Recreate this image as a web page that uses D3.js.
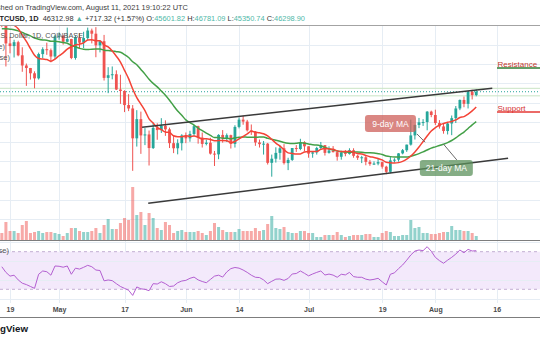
<!DOCTYPE html>
<html>
<head>
<meta charset="utf-8">
<script src="https://cdn.jsdelivr.net/npm/d3@7"></script>
<style>
  html, body { margin: 0; padding: 0; background: #fff; }
  svg { display: block; font-family: "Liberation Sans", Arial, sans-serif; }
</style>
</head>
<body>
<svg id="chart" width="540" height="340"></svg>
<script>
// BTC/USD daily candles, Coinbase, 17 Apr – 11 Aug 2021
const firstDay = "2021-04-17";

const openP = [
  61450, 60050, 56250, 55700, 56500, 53800, 51700, 51180, 50100, 49050, 54050, 55050, 54850, 53550,
  57700, 57800, 56580, 57150, 53250, 57500, 56400, 57350, 58900, 58250, 55850, 56700, 49150, 49700, 49900, 46750, 46450, 43550, 42850, 36700, 40650, 37300, 37500, 34700, 38850, 38400, 39300, 38550, 35700, 34650, 35700,
  37300, 36700, 37600, 39200, 36850, 35550, 35800, 33550, 33400, 37400, 36700, 37350, 35550, 39050, 40550, 40150, 38350, 38100, 35850, 35500, 35600, 31650, 32500, 33700, 34650, 31600, 32250, 34700, 34500, 35900,
  35050, 33550, 33800, 34700, 35300, 33700, 34200, 33850, 32900, 33800, 33500, 34250, 33100, 32700, 32800, 31850, 31400, 31500, 31800, 30850, 29800, 32150, 32300, 33600, 34250, 35400, 37300, 39450, 40000, 40050, 42200,
  41500, 39850, 39150, 38200, 39750, 40850, 42850, 44600, 43800, 46300, 45601.82
];
const highP = [
  62600, 61200, 57600, 57000, 56800, 55450, 52100, 51200, 50500, 54350, 55450, 56400, 55200, 58000,
  58500, 57950, 59500, 57200, 57900, 58350, 58650, 59500, 59300, 59600, 56900, 58000, 51350, 51500, 50700, 49800, 46600, 45800, 43550, 42500, 42200, 38800, 38300, 39900, 39800, 40850, 40400, 38900, 37300, 36500, 37550,
  37900, 38250, 39500, 39300, 37900, 36450, 36800, 34100, 37550, 38400, 37700, 37450, 39400, 41000, 41350, 40500, 39550, 38200, 36450, 36150, 35750, 33350, 34850, 35250, 35500, 32700, 34700, 35300, 36600, 36100,
  35050, 33950, 34950, 35950, 35300, 35050, 35100, 33900, 34100, 34300, 34650, 34650, 33350, 33100, 33200, 32250, 31950, 32450, 31900, 31050, 32850, 32600, 33650, 34500, 35400, 40550, 39500, 40900, 40650, 42300, 42400,
  42600, 40450, 39800, 39950, 41400, 43350, 44700, 45300, 46450, 46700, 46781.09
];
const lowP = [
  59600, 51500, 54200, 53350, 53600, 50400, 47500, 48800, 47000, 48800, 53200, 53900, 52350, 53000,
  57000, 56000, 56500, 53000, 52900, 55200, 55300, 56900, 56250, 53400, 54400, 48600, 46000, 48850, 46650, 43800, 42100, 42300, 30000, 35000, 33500, 35300, 31100, 34500, 36400, 37800, 37200, 34700, 33650, 33400, 34200,
  35700, 36000, 37200, 35600, 34800, 35250, 33350, 31000, 32400, 35800, 35950, 34600, 34800, 38750, 39500, 38100, 37400, 35150, 34800, 33350, 31300, 28800, 31700, 32300, 31300, 30150, 32050, 33900, 34250, 34050,
  32700, 32700, 33350, 34400, 33150, 33550, 33800, 32100, 32300, 33000, 33350, 32700, 32250, 31600, 31150, 31050, 31200, 31150, 30450, 29300, 29500, 31700, 31900, 33400, 33900, 35200, 36450, 38800, 39250, 38350, 41050,
  39450, 38700, 37650, 37500, 37350, 39850, 42500, 43100, 42850, 44700, 45350.74
];
const closeP = [
  60050, 56250, 55700, 56500, 53800, 51700, 51180, 50100, 49050, 54050, 55050, 54850, 53550, 57700,
  57800, 56580, 57150, 53250, 57500, 56400, 57350, 58900, 58250, 55850, 56700, 49150, 49700, 49900, 46750, 46450, 43550, 42850, 36700, 40650, 37300, 37500, 34700, 38850, 38400, 39300, 38550, 35700, 34650, 35700, 37300,
  36700, 37600, 39200, 36850, 35550, 35800, 33550, 33400, 37400, 36700, 37350, 35550, 39050, 40550, 40150, 38350, 38100, 35850, 35500, 35600, 31650, 32500, 33700, 34650, 31600, 32250, 34700, 34500, 35900, 35050,
  33550, 33800, 34700, 35300, 33700, 34200, 33850, 32900, 33800, 33500, 34250, 33100, 32700, 32800, 31850, 31400, 31500, 31800, 30850, 29800, 32150, 32300, 33600, 34250, 35400, 37300, 39450, 40000, 40050, 42200, 41500,
  39850, 39150, 38200, 39750, 40850, 42850, 44600, 43800, 46300, 45601.82, 46298.90
];
const volumeBTC = [
  17500, 45000, 22500, 22500, 17500, 37500, 47500, 17500, 20000, 22500, 17500, 20000, 20000, 17500,
  15000, 10000, 17500, 30000, 30000, 22500, 20000, 20000, 22500, 30000, 17500, 37500, 52500, 27500, 27500, 42500, 55000, 50000, 132500, 62500, 70000, 37500, 67500, 55000, 30000, 25000, 45000, 37500, 17500, 22500, 25000,
  20000, 20000, 20000, 22500, 17500, 12500, 22500, 42500, 32500, 25000, 20000, 20000, 20000, 27500, 22500, 22500, 22500, 30000, 22500, 25000, 40000, 60000, 30000, 27500, 32500, 20000, 17500, 17500, 22500, 22500,
  17500, 17500, 7500, 7500, 12500, 12500, 12500, 20000, 12500, 7500, 10000, 12500, 12500, 12500, 15000, 15000, 7500, 7500, 17500, 22500, 20000, 10000, 10000, 12500, 12500, 50000, 30000, 32500, 17500, 17500, 15000,
  15000, 17500, 20000, 20000, 35000, 25000, 25000, 22500, 22500, 17500, 10000
];
const rsi14 = [
  54, 48, 44, 45, 40, 36.5, 35, 33, 31, 46, 49.5, 48.7, 45, 54.8,
  54.5, 53.5, 54.8, 46, 52.5, 51.5, 53.4, 55.5, 54, 50.5, 50, 39, 39.9, 39.2, 36, 33, 31, 29, 23.5, 32.5, 30.5, 30, 28.5, 36, 35.6, 38, 36, 33, 33.5, 37, 38.8,
  39.5, 41.7, 43, 40, 38.3, 37, 40.5, 44, 45, 43, 48.5, 52, 53.2, 52.5, 50.5, 48, 45, 42.8, 42.5, 40, 36, 38.5, 40.8, 41, 39.5, 41.5, 46.3, 46.8, 49.5, 47,
  44.3, 46.3, 48, 49.5, 45.2, 46.2, 45.1, 42.8, 46, 45.3, 48, 43.5, 42.8, 42.8, 40.8, 39.9, 40.6, 41.7, 38, 34.6, 46, 47.5, 52, 55.9, 61, 66.5, 70.7, 71.8, 71.1, 75.3, 70.5,
  64, 60.5, 57.7, 61, 64, 67.5, 71.8, 68.9, 72.5, 70.7, 71.1
];
// MA (9, close)
const ma9 = [
  60994, 60789, 60333, 59955, 59272, 57955, 56648, 55192, 53814, 53148, 53014, 52920, 52592, 53026,
  53703, 54303, 55087, 55553, 55937, 56087, 56364, 56959, 57020, 56803, 56817, 55928, 55533, 54689, 53617, 52406, 50700, 48989, 46861, 45078, 43761, 42406, 40717, 39839, 38944, 38472, 37994, 37883, 37217, 37039, 37017,
  37239, 37100, 37189, 36917, 36583, 36594, 36472, 36217, 36228, 36228, 36200, 35794, 36039, 36594, 37078, 37611, 38133, 37961, 37828, 37633, 37200, 36472, 35711, 35100, 34350, 33700, 33572, 33461, 33494, 33872,
  33989, 34000, 34006, 34417, 34578, 34522, 34450, 34117, 33978, 33972, 34022, 33844, 33556, 33456, 33194, 32922, 32767, 32544, 32250, 31756, 31650, 31606, 31694, 31961, 32406, 33050, 33900, 34917, 36056, 37172, 38194,
  38889, 39433, 39744, 40017, 40172, 40489, 40994, 41172, 41706, 42344, 43139
];
// MA (21, close)
const ma21 = [
  59248, 59269, 59179, 59069, 58831, 58495, 58123, 57790, 57354, 57113, 56973, 56918, 56701, 56682,
  56587, 56429, 56296, 55805, 55546, 55222, 55027, 54972, 55067, 55074, 55084, 54862, 54767, 54706, 54547, 54423, 53923, 53342, 52478, 51863, 50892, 49925, 48883, 48012, 47305, 46438, 45588, 44557, 43402, 42329, 41445,
  40493, 39943, 39443, 38821, 38288, 37781, 37305, 36855, 36888, 36700, 36702, 36610, 36817, 36898, 36981, 36936, 36914, 36921, 36962, 36957, 36688, 36488, 36302, 36086, 35836, 35679, 35626, 35671, 35790, 35679,
  35529, 35360, 35319, 35140, 34814, 34531, 34317, 34069, 33971, 33876, 33812, 33881, 33890, 33848, 33714, 33705, 33669, 33531, 33357, 33067, 32929, 32869, 32860, 32838, 32843, 33014, 33264, 33557, 33898, 34298, 34679,
  34945, 35233, 35495, 35826, 36255, 36800, 37424, 37995, 38731, 39483, 40157
];

const timeTicks = ["2021-04-19", "2021-05-01", "2021-05-17", "2021-06-01", "2021-06-14", "2021-07-01", "2021-07-19", "2021-08-01", "2021-08-16"];
const timeTickLabels = ["19", "May", "17", "Jun", "14", "Jul", "19", "Aug", "16"];
const priceGrid = [20000, 24000, 28000, 32000, 36000, 40000, 44000, 48000, 52000, 56000];
const rsiGrid = [20, 40, 60, 80];
const rsiBand = [70, 30];

// Ascending channel drawn on the chart
const channelUpper = [["2021-05-21T07:00", 38970], ["2021-08-14T22:00", 47000]];
const channelLower = [["2021-05-22T19:00", 23320], ["2021-08-18T19:00", 32590]];
// Horizontal levels
const rangeLevels = [47000, 45450];
const lastPrice = 46298.90;
const levelStart = "2021-08-16T02:00";
const keyLevels = [
  { name: "Resistance", price: 51180, line: "#2e7d32", text: "#c0392b" },
  { name: "Support", price: 42120, line: "#e53935", text: "#d32f2f" }
];
// Callouts for the moving averages
const callouts = [
  { text: "9-day MA", at: ["2021-07-14T19:00", 41500], w: 51, h: 17, fill: "rgba(205,95,90,0.75)",
    from: ["2021-07-27T12:00", 37600], to: ["2021-07-29T12:00", 35900] },
  { text: "21-day MA", at: ["2021-07-28T05:00", 32240], w: 53, h: 16, fill: "rgba(92,145,92,0.75)",
    from: ["2021-08-03T00:00", 35500], to: ["2021-08-06T06:00", 32240] }
];

const parseDay = d3.utcParse("%Y-%m-%d");
const parseTime = d3.utcParse("%Y-%m-%dT%H:%M");
const start = parseDay(firstDay);
const days = d3.utcDay.range(start, d3.utcDay.offset(start, closeP.length));
const bars = days.map((d, i) => ({
  date: d, o: openP[i], h: highP[i], l: lowP[i], c: closeP[i],
  v: volumeBTC[i], rsi: rsi14[i], ma9: ma9[i], ma21: ma21[i]
}));

const W = 540, H = 340;
const paneTop = 25, paneBottom = 240, rsiTop = 241, rsiBottom = 303, axisLineY = 317;

const x = d3.scaleUtc()
  .domain([parseDay("2021-04-19"), parseDay("2021-08-16")])
  .range([10, 496.7]);
const y = d3.scaleLinear().domain([20000, 60000]).range([219.4, 25.2]);
const yVol = d3.scaleLinear().domain([0, 150000]).range([paneBottom, 180]);
const yRsi = d3.scaleLinear().domain([0, 100]).range([317.5, 223.5]);

const svg = d3.select("#chart");
svg.append("rect").attr("width", W).attr("height", H).attr("fill", "#fff");

const defs = svg.append("defs");
defs.append("clipPath").attr("id", "clipMain")
  .append("rect").attr("x", 0).attr("y", paneTop + 0.5).attr("width", W).attr("height", paneBottom - paneTop - 0.5);
defs.append("clipPath").attr("id", "clipRsi")
  .append("rect").attr("x", 0).attr("y", rsiTop).attr("width", W).attr("height", rsiBottom - rsiTop);

// Sizes a text so the part from character `from` onward spans x0..x1,
// right-aligned at x1; anything before x0 runs off the left edge.
function fitSpan(sel, from, x0, x1) {
  const node = sel.node();
  const n = node.getNumberOfChars();
  let fs = +sel.attr("font-size");
  for (let k = 0; k < 3; k++) {
    const w = node.getSubStringLength(from, n - from);
    if (!(w > 0)) break;
    fs *= (x1 - x0) / w;
    sel.attr("font-size", fs);
  }
  sel.attr("text-anchor", "end").attr("x", x1);
}

const gridColor = "#e6edf4";
const tickDates = timeTicks.map(parseDay);

// grid
const grid = svg.append("g");
grid.selectAll("line.v").data(tickDates).join("line")
  .attr("x1", d => Math.round(x(d)) + 0.5).attr("x2", d => Math.round(x(d)) + 0.5)
  .attr("y1", paneTop).attr("y2", rsiBottom)
  .attr("stroke", gridColor);
const main = svg.append("g").attr("clip-path", "url(#clipMain)");
main.selectAll("line.h").data(priceGrid).join("line")
  .attr("x1", 0).attr("x2", W)
  .attr("y1", d => Math.round(y(d)) + 0.5).attr("y2", d => Math.round(y(d)) + 0.5)
  .attr("stroke", gridColor);

// volume
const upVol = "rgba(38,166,154,0.5)", downVol = "rgba(239,83,80,0.5)";
main.selectAll("rect.vol").data(bars).join("rect")
  .attr("x", d => x(d.date) - 1.5).attr("width", 3)
  .attr("y", d => yVol(d.v)).attr("height", d => yVol(0) - yVol(d.v))
  .attr("fill", d => d.c >= d.o ? upVol : downVol);

// horizontal range levels and last price
main.selectAll("line.lvl").data(rangeLevels).join("line")
  .attr("x1", 0).attr("x2", W)
  .attr("y1", d => y(d)).attr("y2", d => y(d))
  .attr("stroke", "#c9e4c5").attr("stroke-width", 1);
main.append("line")
  .attr("x1", 0).attr("x2", W).attr("y1", y(lastPrice)).attr("y2", y(lastPrice))
  .attr("stroke", "#26a69a").attr("stroke-width", 1).attr("stroke-dasharray", "1,2");

// candles
const upC = "#26a69a", downC = "#ef5350";
const cg = main.selectAll("g.candle").data(bars).join("g");
cg.append("line")
  .attr("x1", d => x(d.date)).attr("x2", d => x(d.date))
  .attr("y1", d => y(d.h)).attr("y2", d => y(d.l))
  .attr("stroke", d => d.c >= d.o ? upC : downC).attr("stroke-width", 1);
cg.append("rect")
  .attr("x", d => x(d.date) - 1.4).attr("width", 2.8)
  .attr("y", d => y(Math.max(d.o, d.c)))
  .attr("height", d => Math.max(1, Math.abs(y(d.o) - y(d.c))))
  .attr("fill", d => d.c >= d.o ? upC : downC);

// moving averages
const maLine = key => d3.line().x(d => x(d.date)).y(d => y(d[key])).curve(d3.curveMonotoneX);
main.append("path").datum(bars).attr("d", maLine("ma21"))
  .attr("fill", "none").attr("stroke", "#43a047").attr("stroke-width", 1.5);
main.append("path").datum(bars).attr("d", maLine("ma9"))
  .attr("fill", "none").attr("stroke", "#f44336").attr("stroke-width", 1.5);

// channel
const chan = d3.line().x(d => x(parseTime(d[0]))).y(d => y(d[1]));
[channelUpper, channelLower].forEach(c => {
  main.append("path").attr("d", chan(c))
    .attr("fill", "none").attr("stroke", "#3a3a3a").attr("stroke-width", 1.5);
});

// key levels
keyLevels.forEach(k => {
  const x0 = x(parseTime(levelStart));
  main.append("line").attr("x1", x0).attr("x2", W)
    .attr("y1", y(k.price)).attr("y2", y(k.price))
    .attr("stroke", k.line).attr("stroke-width", 1.5);
  main.append("text").attr("x", x0 + 0.5).attr("y", y(k.price) - 1.5)
    .attr("font-size", 8).attr("fill", k.text).text(k.name);
});

// callouts
callouts.forEach(c => {
  main.append("line")
    .attr("x1", x(parseTime(c.from[0]))).attr("y1", y(c.from[1]))
    .attr("x2", x(parseTime(c.to[0]))).attr("y2", y(c.to[1]))
    .attr("stroke", "#6b6b6b").attr("stroke-width", 1);
  const bx = x(parseTime(c.at[0])), by = y(c.at[1]);
  main.append("rect").attr("x", bx).attr("y", by).attr("width", c.w).attr("height", c.h)
    .attr("rx", 3).attr("fill", c.fill);
  main.append("text").attr("x", bx + c.w / 2).attr("y", by + c.h / 2 + 3)
    .attr("text-anchor", "middle").attr("font-size", 8.5).attr("fill", "#fff").text(c.text);
});

// legends of the main pane
const legend = svg.append("g").attr("fill", "#555");
const sym = legend.append("text").attr("y", 38).attr("font-size", 7.5).text("BTC / U.S. Dollar, 1D, COINBASE");
fitSpan(sym, 8, 0.5, 83);
legend.append("text").attr("x", 5).attr("y", 49).attr("font-size", 7.5).attr("text-anchor", "end").text("MA (9, close)");
legend.append("text").attr("x", 10).attr("y", 60).attr("font-size", 7.5).attr("text-anchor", "end").text("MA (21, close)");

// RSI pane
const rsiG = svg.append("g").attr("clip-path", "url(#clipRsi)");
rsiG.append("rect").attr("x", 0).attr("width", W)
  .attr("y", yRsi(rsiBand[0])).attr("height", yRsi(rsiBand[1]) - yRsi(rsiBand[0]))
  .attr("fill", "#f3e9fb");
rsiG.selectAll("line.rg").data(rsiGrid).join("line")
  .attr("x1", 0).attr("x2", W)
  .attr("y1", d => Math.round(yRsi(d)) + 0.5).attr("y2", d => Math.round(yRsi(d)) + 0.5)
  .attr("stroke", gridColor);
rsiG.selectAll("line.band").data(rsiBand).join("line")
  .attr("x1", 0).attr("x2", W)
  .attr("y1", d => yRsi(d)).attr("y2", d => yRsi(d))
  .attr("stroke", "#c2aed3").attr("stroke-dasharray", "3,3");
rsiG.append("path").datum(bars)
  .attr("d", d3.line().x(d => x(d.date)).y(d => yRsi(d.rsi)))
  .attr("fill", "none").attr("stroke", "#b35fd1").attr("stroke-width", 1);
svg.append("text").attr("x", 9).attr("y", 252.5).attr("text-anchor", "end")
  .attr("font-size", 7.5).attr("fill", "#555").text("RSI (14, close)");

// pane borders
svg.append("line").attr("x1", 0).attr("x2", W).attr("y1", paneTop + 0.5).attr("y2", paneTop + 0.5)
  .attr("stroke", "#a3a3a3");
svg.append("line").attr("x1", 0).attr("x2", W).attr("y1", paneBottom + 0.5).attr("y2", paneBottom + 0.5)
  .attr("stroke", "#7d7d7d");
svg.append("line").attr("x1", 0).attr("x2", W).attr("y1", axisLineY + 0.5).attr("y2", axisLineY + 0.5)
  .attr("stroke", "#7d7d7d");

// time axis
const axis = svg.append("g").attr("transform", `translate(0,${rsiBottom})`)
  .call(d3.axisBottom(x).tickValues(tickDates).tickFormat((d, i) => timeTickLabels[i]).tickSize(0).tickPadding(4));
axis.select(".domain").remove();
axis.selectAll("text").attr("font-size", 7).attr("font-weight", "bold").attr("fill", "#4a4a4a")
  .attr("font-family", "Liberation Sans, Arial, sans-serif");

// header
const line1 = svg.append("text").attr("y", 10).attr("font-size", 7.5).attr("fill", "#3c3c3c")
  .text("Published on TradingView.com, August 11, 2021 19:10:22 UTC");
fitSpan(line1, 6, 0.5, 188);

const teal = "#4fb8a8", dark = "#333";
const hdr = svg.append("text").attr("y", 20.5).attr("font-size", 8).attr("fill", dark)
  .attr("xml:space", "preserve").style("white-space", "pre");
const parts = [
  ["BTCUSD, 1D", "#1e1e1e", "bold"], ["  46312.98 ", dark], ["▲", teal], [" +717.32 (+1.57%) ", dark],
  ["O:", dark], ["45601.82", teal], [" H:", dark], ["46781.09", teal],
  [" L:", dark], ["45350.74", teal], [" C:", dark], ["46298.90", teal]
];
parts.forEach(p => {
  const t = hdr.append("tspan").attr("fill", p[1]).text(p[0]);
  if (p[2]) t.attr("font-weight", p[2]);
});
fitSpan(hdr, 1, -0.5, 305);

// footer logo
const logo = svg.append("text").attr("y", 332).attr("font-size", 10).attr("font-weight", "bold")
  .attr("fill", "#131722").text("TradingView");
fitSpan(logo, 6, 0, 28);
</script>
</body>
</html>
